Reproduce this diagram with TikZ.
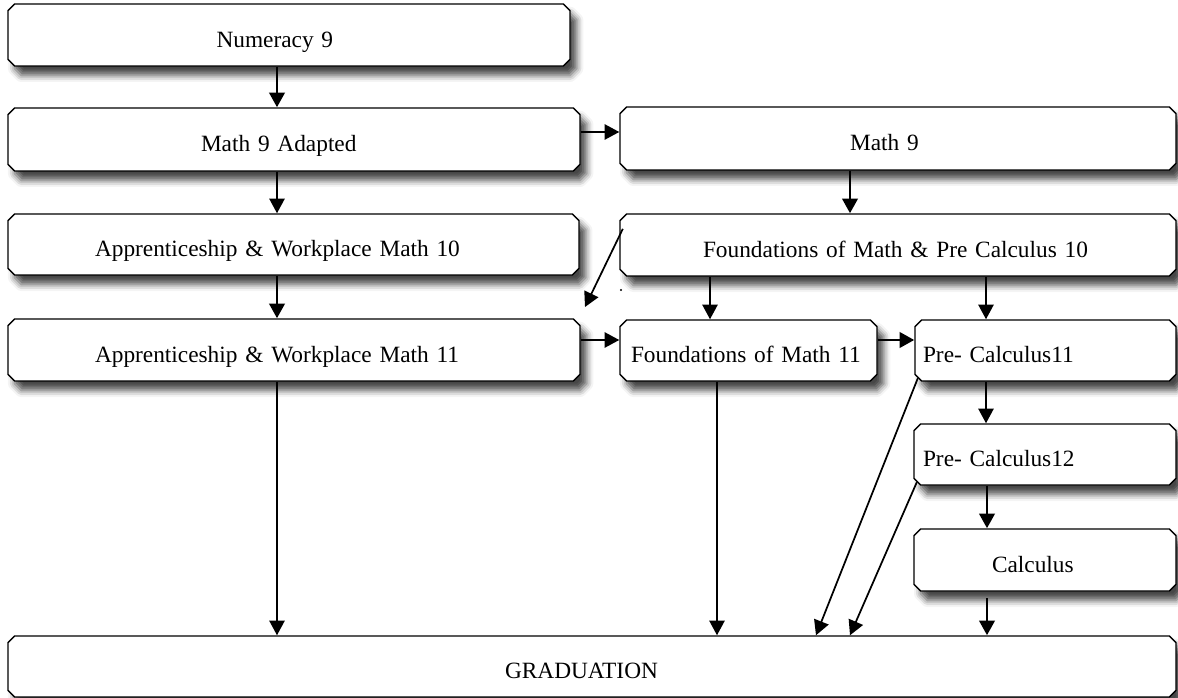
\documentclass[tikz,border=0pt]{standalone}
\usepackage{fontspec}
\setmainfont{Liberation Serif}
\usetikzlibrary{shapes.misc,shadows.blur,arrows.meta,calc}
\begin{document}
\begin{tikzpicture}[x=0.75pt,y=-0.75pt,
  box/.style={chamfered rectangle, chamfered rectangle sep=2.5pt, draw=black, line width=1.1pt, fill=white,
    blur shadow={shadow xshift=5pt, shadow yshift=-7pt, shadow blur radius=5pt, shadow opacity=72},
    font=\fontsize{17.5}{20}\selectfont, align=left, text height=22.4pt, text depth=4pt,
    inner xsep=0pt, inner ysep=0pt},
  bigarrow/.style={line width=2.2pt, -{Triangle[width=11.5pt,length=11pt]}},
  thinarrow/.style={line width=1.3pt, -{Triangle[width=11.5pt,length=11pt]}}
]
\useasboundingbox (0,0) rectangle (1178,698);

\node[box, minimum width=421.5pt, minimum height=46.5pt, text width=108.75pt] (num) at (289,35) {Numeracy 9};
\node[box, minimum width=429pt, minimum height=47.25pt, text width=139.5pt] (m9a) at (294,139.5) {Math 9 Adapted};
\node[box, minimum width=417pt, minimum height=47.25pt, text width=72pt] (m9) at (898,138.5) {Math 9};
\node[box, minimum width=428.25pt, minimum height=45.75pt, text width=297.75pt] (aw10) at (293.5,244.5) {Apprenticeship \& Workplace Math 10};
\node[box, minimum width=417pt, minimum height=46.5pt, text width=292.5pt] (f10) at (898,245) {Foundations of Math \& Pre Calculus 10};
\node[box, minimum width=429pt, minimum height=46.5pt, text width=298.5pt] (aw11) at (294,350) {Apprenticeship \& Workplace Math 11};
\node[box, minimum width=192.75pt, minimum height=45.75pt, text width=176.25pt] (f11) at (748.5,350.5) {Foundations of Math 11};
\node[box, minimum width=195.75pt, minimum height=45.75pt, text width=183.75pt] (pc11) at (1045.5,350.5) {Pre- Calculus11};
\node[box, minimum width=196.5pt, minimum height=45.75pt, text width=183pt] (pc12) at (1045,454.5) {Pre- Calculus12};
\node[box, minimum width=196.5pt, minimum height=46.5pt, text width=79.5pt] (calc) at (1045,560) {Calculus};
\node[box, minimum width=876pt, minimum height=45.75pt, text width=130.5pt] (grad) at (592,666.5) {GRADUATION};

% x / y guide coordinates
\coordinate (xa) at (277,0);
\coordinate (xb) at (850,0);
\coordinate (xc) at (710,0);
\coordinate (xd) at (986,0);
\coordinate (xe) at (717,0);
\coordinate (xf) at (987,0);
\coordinate (xg) at (816,0);
\coordinate (xh) at (850,0);
\coordinate (ya) at (0,132);
\coordinate (yb) at (0,340);
\coordinate (tipA) at (585,307);

\draw[bigarrow] (num.south -| xa) -- (m9a.north -| xa);
\draw[thinarrow] (m9a.east |- ya) -- (m9.west |- ya);
\draw[thinarrow] (m9a.south -| xa) -- (aw10.north -| xa);
\draw[bigarrow] (m9.south -| xb) -- (f10.north -| xb);
\draw[bigarrow] (aw10.south -| xa) -- (aw11.north -| xa);
\draw[thinarrow] ([yshift=-9pt]f10.north west) -- (tipA);
\fill (621,290) circle (0.8pt);
\draw[thinarrow] (f10.south -| xc) -- (f11.north -| xc);
\draw[thinarrow] (f10.south -| xd) -- (pc11.north -| xd);
\draw[thinarrow] (aw11.east |- yb) -- (f11.west |- yb);
\draw[bigarrow] (f11.east |- yb) -- (pc11.west |- yb);
\draw[thinarrow] (aw11.south -| xa) -- (grad.north -| xa);
\draw[thinarrow] (f11.south -| xe) -- (grad.north -| xe);
\draw[thinarrow] (pc11.south west) -- (grad.north -| xg);
\draw[thinarrow] (pc11.south -| xd) -- (pc12.north -| xd);
\draw[thinarrow] (pc12.south west) -- (grad.north -| xh);
\draw[bigarrow] (pc12.south -| xf) -- (calc.north -| xf);
\draw[bigarrow, shorten <=5pt] (calc.south -| xf) -- (grad.north -| xf);
\end{tikzpicture}
\end{document}
